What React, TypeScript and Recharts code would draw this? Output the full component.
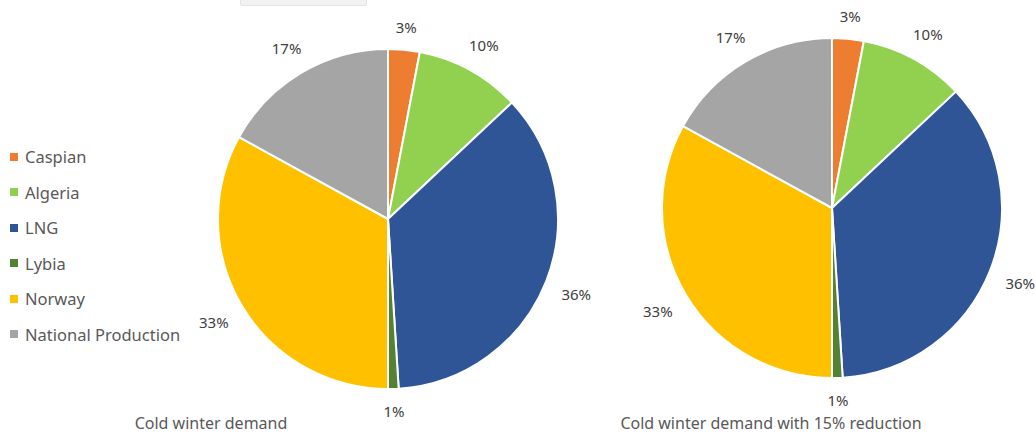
import { PieChart, Pie, Cell } from 'recharts';

const categories = ['Caspian', 'Algeria', 'LNG', 'Lybia', 'Norway', 'National Production'];
const coldWinter = [3, 10, 36, 1, 33, 17];
const coldWinterReduced = [3, 10, 36, 1, 33, 17];
const colors = ['#ED7D31', '#92D050', '#2F5597', '#548235', '#FFC000', '#A5A5A5'];
const titles = ['Cold winter demand', 'Cold winter demand with 15% reduction'];

const leftData = categories.map((name, i) => ({ name, value: coldWinter[i] }));
const rightData = categories.map((name, i) => ({ name, value: coldWinterReduced[i] }));

const FONT = '"Noto Sans", "Open Sans", sans-serif';
const RADIAN = Math.PI / 180;

// label sits outside the slice, pushed out by half its box like Excel does
const renderLabel = (props: any) => {
  const { cx, cy, midAngle, outerRadius, value } = props;
  const cos = Math.cos(-midAngle * RADIAN);
  const sin = Math.sin(-midAngle * RADIAN);
  const halfW = String(value).length * 4.5 + 7;
  const r = outerRadius + 15 + Math.abs(cos) * halfW + Math.abs(sin) * 7;
  return (
    <text
      x={cx + r * cos}
      y={cy + r * sin}
      fill="#404040"
      fontSize={15}
      fontFamily={FONT}
      textAnchor="middle"
      dominantBaseline="central"
    >
      {value}%
    </text>
  );
};

export default function App() {
  return (
    <div style={{ position: 'absolute', left: 0, top: 0, width: 1036, height: 434, background: '#fff', overflow: 'hidden' }}>
      <div style={{ position: 'absolute', left: 240, top: -2, width: 125, height: 6, background: '#f2f2f2', border: '1px solid #e4e4e4', borderRadius: 2 }} />
      <div style={{ position: 'absolute', left: 10, top: 139, fontFamily: FONT, fontSize: 16.5, color: '#595959' }}>
        {categories.map((c, i) => (
          <div key={c} style={{ display: 'flex', alignItems: 'center', height: 35.5 }}>
            <span style={{ width: 8, height: 8, background: colors[i], display: 'inline-block', marginRight: 7 }} />
            <span>{c}</span>
          </div>
        ))}
      </div>
      <PieChart
        width={1036}
        height={434}
        margin={{ top: 0, right: 0, bottom: 0, left: 0 }}
        style={{ position: 'absolute', left: 0, top: 0 }}
      >
        <Pie
          data={leftData}
          dataKey="value"
          cx={388}
          cy={219}
          outerRadius={170}
          startAngle={90}
          endAngle={-270}
          stroke="#fff"
          strokeWidth={2}
          label={renderLabel}
          labelLine={false}
          isAnimationActive={false}
        >
          {leftData.map((d, i) => (
            <Cell key={d.name} fill={colors[i]} />
          ))}
        </Pie>
        <Pie
          data={rightData}
          dataKey="value"
          cx={832}
          cy={208}
          outerRadius={170}
          startAngle={90}
          endAngle={-270}
          stroke="#fff"
          strokeWidth={2}
          label={renderLabel}
          labelLine={false}
          isAnimationActive={false}
        >
          {rightData.map((d, i) => (
            <Cell key={d.name} fill={colors[i]} />
          ))}
        </Pie>
        <text x={211} y={423} textAnchor="middle" dominantBaseline="central" fill="#595959" fontSize={16} fontFamily={FONT}>
          {titles[0]}
        </text>
        <text x={771} y={423} textAnchor="middle" dominantBaseline="central" fill="#595959" fontSize={16} fontFamily={FONT}>
          {titles[1]}
        </text>
      </PieChart>
    </div>
  );
}
